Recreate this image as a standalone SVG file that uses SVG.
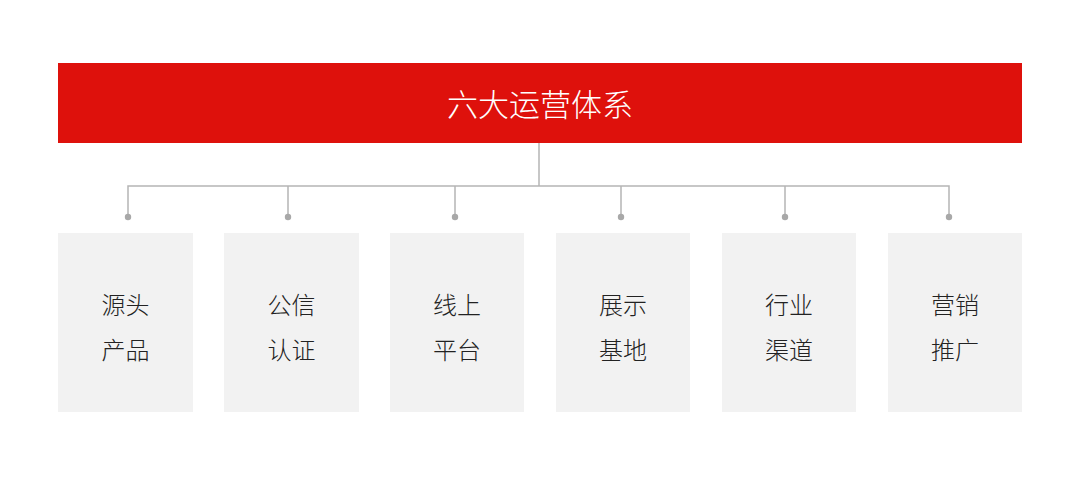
<svg xmlns="http://www.w3.org/2000/svg" width="1080" height="477" viewBox="0 0 1080 477">
<style>
.box{fill:#f2f2f2}
.lbl{font-family:"Noto Sans CJK SC","Noto Sans",sans-serif;font-size:24px;fill:#222;text-anchor:middle;font-weight:300}
.title{font-family:"Noto Sans CJK SC","Noto Sans",sans-serif;font-size:31px;fill:#fff;text-anchor:middle;font-weight:300}
.ln{stroke:#b5b5b5;stroke-width:1.5;fill:none}
.dot{fill:#a8a8a8}
</style>
<rect width="1080" height="477" fill="#fff"/>
<g id="root">
<rect x="58" y="63" width="964" height="80" fill="#de110c"/>
<text class="title" x="540" y="116">六大运营体系</text>
</g>
<g id="connectors">
<path class="ln" d="M539 143V186M128 217V186H949V217M288 186V217M455 186V217M621 186V217M785 186V217"/>
<circle class="dot" cx="128" cy="217" r="3.2"/>
<circle class="dot" cx="288" cy="217" r="3.2"/>
<circle class="dot" cx="455" cy="217" r="3.2"/>
<circle class="dot" cx="621" cy="217" r="3.2"/>
<circle class="dot" cx="785" cy="217" r="3.2"/>
<circle class="dot" cx="949" cy="217" r="3.2"/>
</g>
<g id="n1"><rect class="box" x="58" y="233" width="135" height="179"/><text class="lbl" x="125.5" y="314">源头</text><text class="lbl" x="125.5" y="359">产品</text></g>
<g id="n2"><rect class="box" x="224" y="233" width="135" height="179"/><text class="lbl" x="291.5" y="314">公信</text><text class="lbl" x="291.5" y="359">认证</text></g>
<g id="n3"><rect class="box" x="390" y="233" width="134" height="179"/><text class="lbl" x="457" y="314">线上</text><text class="lbl" x="457" y="359">平台</text></g>
<g id="n4"><rect class="box" x="556" y="233" width="134" height="179"/><text class="lbl" x="623" y="314">展示</text><text class="lbl" x="623" y="359">基地</text></g>
<g id="n5"><rect class="box" x="722" y="233" width="134" height="179"/><text class="lbl" x="789" y="314">行业</text><text class="lbl" x="789" y="359">渠道</text></g>
<g id="n6"><rect class="box" x="888" y="233" width="134" height="179"/><text class="lbl" x="955" y="314">营销</text><text class="lbl" x="955" y="359">推广</text></g>
</svg>
